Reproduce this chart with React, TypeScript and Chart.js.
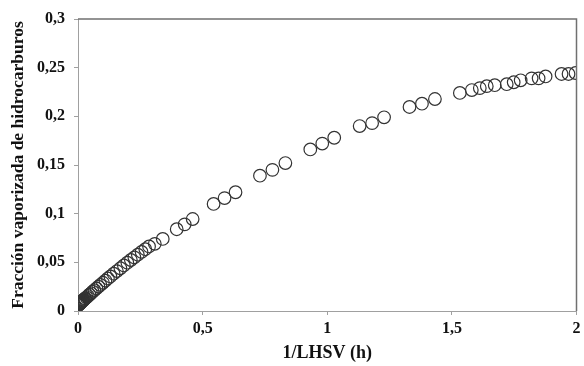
import React, { useEffect, useRef } from "react";
import { Chart, registerables } from "chart.js";

Chart.register(...registerables);

const xValues: number[] = [
  0.001, 0.002, 0.003, 0.004, 0.005, 0.006, 0.008, 0.009, 0.011, 0.012, 0.014, 0.016,
  0.018, 0.02, 0.022, 0.024, 0.027, 0.029, 0.034, 0.04, 0.046, 0.052,
  0.059, 0.066, 0.074, 0.082, 0.09, 0.1, 0.11, 0.12, 0.13, 0.143, 0.156, 0.17,
  0.184, 0.198, 0.212, 0.226, 0.24, 0.255, 0.27, 0.285,
  0.308, 0.34, 0.396, 0.428, 0.46, 0.544, 0.588, 0.632, 0.73, 0.78, 0.832,
  0.932, 0.98, 1.028, 1.13, 1.18, 1.228, 1.33, 1.38, 1.432,
  1.532, 1.58, 1.612, 1.64, 1.672, 1.72, 1.748, 1.776, 1.82, 1.848, 1.876,
  1.94, 1.968, 1.996,
];

const yValues: number[] = [
  0.0062, 0.0064, 0.0067, 0.0069, 0.0071, 0.0074, 0.0078, 0.0082, 0.0086, 0.0089,
  0.0094, 0.0098, 0.0103, 0.0108, 0.0112, 0.0117, 0.0124, 0.0129, 0.0141, 0.0154,
  0.0168, 0.0182, 0.0198, 0.0214, 0.0232, 0.025, 0.0268, 0.029, 0.0312, 0.0334,
  0.0355, 0.0383, 0.041, 0.0439, 0.0468, 0.0496, 0.0524, 0.0551, 0.0578, 0.0607,
  0.0635, 0.0663,
  0.069, 0.074, 0.084, 0.089, 0.0945, 0.11, 0.116, 0.122, 0.139, 0.145, 0.152,
  0.166, 0.172, 0.178, 0.19, 0.193, 0.199, 0.2096, 0.213, 0.2178,
  0.224, 0.227, 0.229, 0.231, 0.232, 0.233, 0.235, 0.237, 0.239, 0.239, 0.241,
  0.2435, 0.2435, 0.2445,
];

const xTicks: number[] = [0, 0.5, 1, 1.5, 2];
const yTicks: number[] = [0, 0.05, 0.1, 0.15, 0.2, 0.25, 0.3];

const xTitle = "1/LHSV (h)";
const yTitle = "Fracción vaporizada de hidrocarburos";

const fmt = (v: number) => String(Math.round(v * 1000) / 1000).replace(".", ",");

const frame = {
  id: "frame",
  afterDraw(chart: any) {
    const { ctx, chartArea } = chart;
    ctx.save();
    ctx.strokeStyle = "#707070";
    ctx.lineWidth = 1.5;
    ctx.beginPath();
    ctx.moveTo(chartArea.left, chartArea.top);
    ctx.lineTo(chartArea.right, chartArea.top);
    ctx.lineTo(chartArea.right, chartArea.bottom);
    ctx.stroke();
    ctx.restore();
  },
};

export default function App() {
  const ref = useRef<HTMLCanvasElement | null>(null);
  useEffect(() => {
    if (!ref.current) return;
    const data = xValues.map((x, i) => ({ x, y: yValues[i] }));
    const font = { family: "'Liberation Serif', serif", weight: "bold" as const };
    const chart = new Chart(ref.current, {
      type: "scatter",
      data: {
        datasets: [
          {
            data,
            pointStyle: "circle",
            pointRadius: 6.3,
            pointBackgroundColor: "rgba(0,0,0,0)",
            pointBorderColor: "#333333",
            pointBorderWidth: 1.2,
          },
        ],
      },
      options: {
        animation: false,
        responsive: false,
        maintainAspectRatio: false,
        layout: { padding: { top: 19, right: 6, bottom: 0, left: 0 } },
        plugins: { legend: { display: false }, tooltip: { enabled: false } },
        scales: {
          x: {
            type: "linear",
            min: 0,
            max: 2,
            afterFit: (s: any) => { s.height = 55; s.paddingRight = 0; s.paddingLeft = 0; },
            afterBuildTicks: (s: any) => { s.ticks = xTicks.map((v) => ({ value: v })); },
            ticks: {
              callback: (v: any) => fmt(Number(v)),
              color: "#111",
              font: { ...font, size: 16 },
              padding: 4,
              maxRotation: 0,
            },
            grid: { display: true, drawOnChartArea: false, drawTicks: true, tickLength: 4, color: "#a0a0a0" },
            border: { display: true, color: "#a0a0a0", width: 1 },
            title: { display: true, text: xTitle, color: "#111", font: { ...font, size: 18 }, padding: { top: 0, bottom: 2 } },
          },
          y: {
            type: "linear",
            min: 0,
            max: 0.3,
            afterFit: (s: any) => { s.width = 78; },
            afterBuildTicks: (s: any) => { s.ticks = yTicks.map((v) => ({ value: v })); },
            ticks: {
              callback: (v: any) => fmt(Number(v)),
              color: "#111",
              font: { ...font, size: 16 },
              padding: 9,
            },
            grid: { display: true, drawOnChartArea: false, drawTicks: true, tickLength: 4, color: "#a0a0a0" },
            border: { display: true, color: "#a0a0a0", width: 1 },
            title: { display: true, text: yTitle, color: "#111", font: { ...font, size: 17.5 }, padding: { top: 8, bottom: 0 } },
          },
        },
      },
      plugins: [frame],
    });
    return () => chart.destroy();
  }, []);
  return (
    <div style={{ position: "fixed", left: 0, top: 0, width: 584, height: 366, background: "#fff" }}>
      <canvas ref={ref} width={584} height={366} />
    </div>
  );
}
